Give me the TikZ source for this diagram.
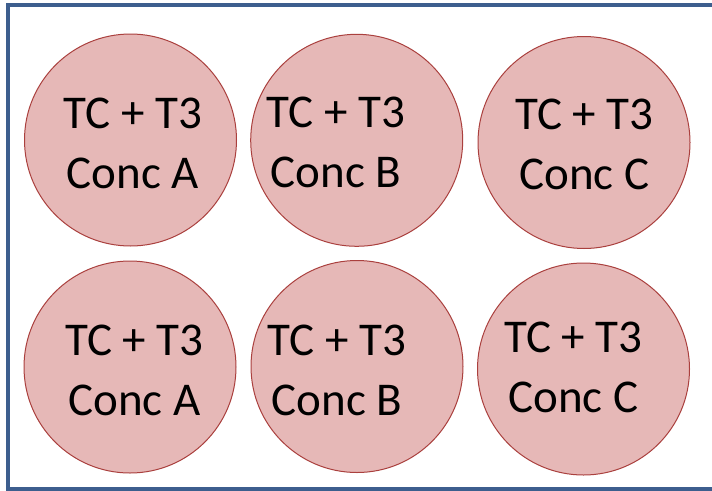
\documentclass[tikz,border=0pt]{standalone}
\usepackage{fontspec}
\setmainfont{Carlito}
\definecolor{wellfill}{RGB}{230,184,183}
\definecolor{welldraw}{RGB}{170,64,62}
\definecolor{framecol}{RGB}{61,94,142}
\tikzset{
  well/.style={circle, draw=welldraw, fill=wellfill, line width=1pt, minimum size=212pt, inner sep=0pt},
  welltext/.style={align=center, anchor=base, inner sep=0pt, font=\fontsize{47}{60}\selectfont},
}
\begin{document}
\begin{tikzpicture}[x=1pt,y=-1pt]
\useasboundingbox (0,0) rectangle (712,490);
\clip (0,0) rectangle (712,490);
\fill[white] (0,0) rectangle (712,490);
\draw[framecol, line width=4pt] (7.5,5.3) rectangle (730,488.6);
% top row
\node[well] (w1) at (130.5,140) {};
\node[well] (w2) at (356.7,140.3) {};
\node[well] (w3) at (584,142.5) {};
% bottom row
\node[well] (w4) at (130,367) {};
\node[well] (w5) at (357,366.5) {};
\node[well] (w6) at (583.5,369) {};
% labels (anchor = baseline of last line)
\node[welltext] (t1) at (133,188) {TC + T3\\Conc A};
\node[welltext] (t2) at (336,187) {TC + T3\\Conc B};
\node[welltext] (t3) at (584.5,189) {TC + T3\\Conc C};
\node[welltext] (t4) at (134.5,415) {TC + T3\\Conc A};
\node[welltext] (t5) at (337,415) {TC + T3\\Conc B};
\node[welltext] (t6) at (573.5,412) {TC + T3\\Conc C};
\end{tikzpicture}
\end{document}
